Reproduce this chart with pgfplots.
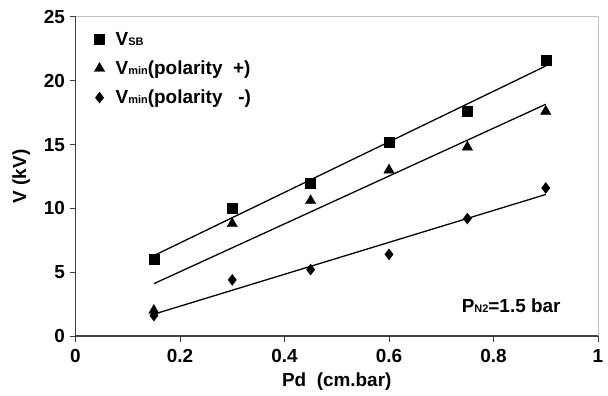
\documentclass[border=0pt]{standalone}
\usepackage{pgfplots}
\pgfplotsset{compat=1.18}
\usepackage{fontspec}
\setmainfont{Liberation Sans}
\definecolor{axgray}{RGB}{64,64,64}
\definecolor{framegray}{RGB}{192,192,192}
\newcommand{\fs}{\fontsize{19}{21}\selectfont\bfseries}
\newcommand{\sub}[1]{{\fontsize{11}{11}\selectfont #1}}
\begin{document}
\begin{tikzpicture}
\begin{axis}[
  scale only axis,
  width=522.5bp, height=319bp,
  xmin=0, xmax=1, ymin=0, ymax=25,
  xtick={0,0.2,0.4,0.6,0.8,1},
  ytick={0,5,10,15,20,25},
  xticklabels={0,0.2,0.4,0.6,0.8,1},
  axis x line=bottom, axis y line=left,
  axis line style={-, draw=axgray, line width=1.1bp},
  tick style={draw=axgray, line width=1bp},
  tick align=outside, major tick length=6bp,
  /pgf/number format/assume math mode=true,
  ticklabel style={font=\fs},
  xticklabel style={yshift=-4bp},
  yticklabel style={xshift=-1bp},
  xlabel={Pd\ \ (cm.bar)},
  ylabel={V (kV)},
  label style={font=\fs},
  xlabel style={at={(axis description cs:0.5,-0.157)}, anchor=base},
  ylabel style={at={(axis description cs:-0.104,0.5)}, anchor=center},
  clip=false,
  legend style={draw=none, fill=none, font=\fs, at={(rel axis cs:0.03,0.965)}, anchor=north west, row sep=10bp, cells={anchor=west},
    /tikz/every odd column/.append style={column sep=9bp}},
  legend cell align=left,
]
\addplot[only marks, mark=square*, mark size=5bp, black] coordinates {
 (0.15,6.0) (0.3,10.0) (0.45,12.0) (0.6,15.2) (0.75,17.6) (0.9,21.6)};
\addlegendentry{V\sub{SB}}
\addplot[only marks, mark=triangle*, mark size=6bp, black] coordinates {
 (0.15,2.0) (0.3,8.8) (0.45,10.6) (0.6,13.0) (0.75,14.8) (0.9,17.6)};
\addlegendentry{V\sub{min}(polarity\ \ +)}
\addplot[only marks, mark=diamond*, mark size=5.5bp, black] coordinates {
 (0.15,1.6) (0.3,4.4) (0.45,5.2) (0.6,6.4) (0.75,9.2) (0.9,11.6)};
\addlegendentry{V\sub{min}(polarity\ \ \ -)}
\addplot[black, line width=1.3bp, forget plot] coordinates {(0.15,6.30) (0.9,21.16)};
\addplot[black, line width=1.3bp, forget plot] coordinates {(0.15,4.10) (0.9,18.16)};
\addplot[black, line width=1.3bp, forget plot] coordinates {(0.15,1.71) (0.9,11.09)};
\node[anchor=east, font=\fs] at (axis cs:0.935,2.4) {P\sub{N2}=1.5 bar};
\draw[framegray, line width=1bp] (rel axis cs:0,1) -- (rel axis cs:1,1) -- (rel axis cs:1,0);
\end{axis}
\pgfresetboundingbox
\path (-75.5bp,-60bp) rectangle (532.5bp,336bp);
\end{tikzpicture}
\end{document}
